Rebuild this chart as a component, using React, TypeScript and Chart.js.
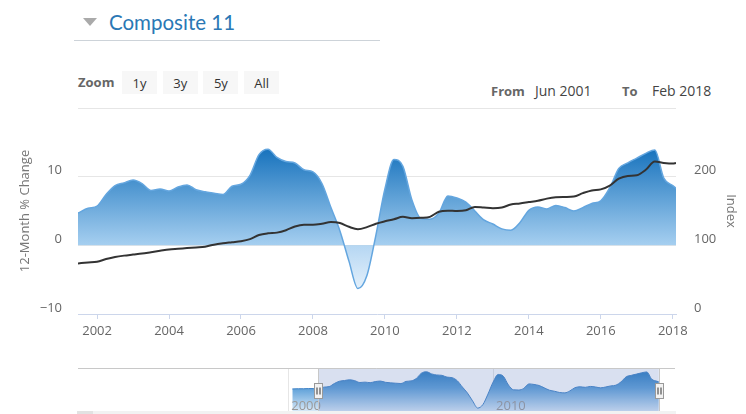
import React, { useEffect, useRef } from "react";
import { Chart, registerables } from "chart.js";

Chart.register(...registerables);
Chart.defaults.font.family = "'Open Sans', 'DejaVu Sans', sans-serif";

// ---- data (decimal years) ----
const dates = [
  2001.47, 2001.75,
  2002.0, 2002.25, 2002.5, 2002.75,
  2003.0, 2003.25, 2003.5, 2003.75,
  2004.0, 2004.25, 2004.5, 2004.75,
  2005.0, 2005.25, 2005.5, 2005.75,
  2006.0, 2006.25, 2006.5, 2006.75,
  2007.0, 2007.25, 2007.5, 2007.75,
  2008.0, 2008.25, 2008.5, 2008.75,
  2009.0, 2009.25, 2009.5, 2009.75,
  2010.0, 2010.25, 2010.5, 2010.75,
  2011.0, 2011.25, 2011.5, 2011.75,
  2012.0, 2012.25, 2012.5, 2012.75,
  2013.0, 2013.25, 2013.5, 2013.75,
  2014.0, 2014.25, 2014.5, 2014.75,
  2015.0, 2015.25, 2015.5, 2015.75,
  2016.0, 2016.25, 2016.5, 2016.75,
  2017.0, 2017.25, 2017.5, 2017.75,
  2018.0, 2018.09,
];

// 12-month % change
const pctChange = [
  4.7, 5.4,
  5.7, 7.4, 8.7, 9.1,
  9.5, 9.0, 8.0, 8.2,
  7.9, 8.5, 8.8, 8.1,
  7.8, 7.6, 7.4, 8.6,
  8.9, 10.2, 13.2, 14.0,
  12.8, 12.2, 12.0, 11.0,
  10.7, 9.0, 5.5, 2.1,
  -2.3, -6.3, -4.4, 1.5,
  8.2, 12.5, 11.5, 6.6,
  3.9, 3.8, 4.7, 7.2,
  6.9, 6.3, 5.0, 3.7,
  3.1, 2.4, 2.2, 3.3,
  5.1, 5.6, 5.3, 5.8,
  5.5, 5.0, 5.5, 6.1,
  6.5, 8.4, 11.2, 12.0,
  12.7, 13.4, 13.9, 9.8,
  8.7, 8.3,
];

// Index level
const indexLevel = [
  73.7, 75,
  76.2, 80, 83, 85,
  86.5, 88, 90, 92,
  94, 95, 96, 97,
  98, 101, 103, 104.5,
  106, 109, 115, 117.5,
  118.5, 122, 127.5, 130,
  130, 131.5, 134, 132.5,
  127, 123.5, 126.5, 131.5,
  135, 138, 141.5, 139.5,
  140, 141.5, 149, 150.5,
  150, 151, 156, 155,
  154, 155, 159.5, 161,
  163, 165, 168, 170,
  170.5, 171, 176, 180,
  181.5, 187, 197, 201,
  202, 210, 222, 220,
  219, 220,
];

// navigator-only earlier history
const earlyDates = [2000.2, 2000.5, 2000.75, 2001.0, 2001.25];
const earlyPct = [4.4, 4.5, 4.5, 4.6, 4.6];

const xTickYears = [2002, 2004, 2006, 2008, 2010, 2012, 2014, 2016, 2018];
const leftTicks = [-10, 0, 10, 20];
const rightTicks = [0, 100, 200, 300];
const navLabelYears = [2000, 2010];
const zoomButtons = ["1y", "3y", "5y", "All"];
const fromLabel = "Jun 2001";
const toLabel = "Feb 2018";

function mainGradient(chart: any) {
  const { ctx, chartArea, scales } = chart;
  if (!chartArea) return "#5a9fd6";
  const y0 = scales.y.getPixelForValue(0);
  const h = chartArea.bottom - chartArea.top;
  const z = Math.max(0, Math.min(1, (y0 - chartArea.top) / h));
  const g = ctx.createLinearGradient(0, chartArea.top, 0, chartArea.bottom);
  g.addColorStop(0, "#0a5fab");
  g.addColorStop(0.2, "#1873bd");
  g.addColorStop(z, "#a6cff0");
  g.addColorStop(Math.min(1, z + 0.004), "#b6d7f3");
  g.addColorStop(1, "#ffffff");
  return g;
}

function navGradient(chart: any) {
  const { ctx, chartArea } = chart;
  if (!chartArea) return "#5a9fd6";
  const g = ctx.createLinearGradient(0, chartArea.top, 0, chartArea.bottom);
  g.addColorStop(0, "#1f74bd");
  g.addColorStop(0.45, "#5c9fd8");
  g.addColorStop(1, "#dcebf9");
  return g;
}

const navDecor = {
  id: "navDecor",
  beforeDatasetsDraw(chart: any) {
    const { ctx, chartArea, scales } = chart;
    const { top, bottom } = chartArea;
    ctx.save();
    ctx.strokeStyle = "#e6e6e6";
    ctx.lineWidth = 1;
    navLabelYears.forEach((yr) => {
      const px = Math.round(scales.x.getPixelForValue(yr)) + 0.5;
      ctx.beginPath();
      ctx.moveTo(px, top);
      ctx.lineTo(px, bottom);
      ctx.stroke();
    });
    ctx.restore();
  },
  afterDatasetsDraw(chart: any) {
    const { ctx, chartArea, scales } = chart;
    const { top, bottom, left, right } = chartArea;
    const x = scales.x;
    ctx.save();
    // labels
    ctx.fillStyle = "#999";
    ctx.font = "13px 'Open Sans', sans-serif";
    ctx.textAlign = "left";
    ctx.textBaseline = "alphabetic";
    navLabelYears.forEach((yr) => {
      ctx.fillText(String(yr), x.getPixelForValue(yr) + 3, bottom - 2);
    });
    // mask
    const m0 = x.getPixelForValue(dates[0]);
    const m1 = x.getPixelForValue(dates[dates.length - 1]);
    ctx.fillStyle = "rgba(102,133,194,0.25)";
    ctx.fillRect(m0, top, m1 - m0, bottom - top);
    // outline
    ctx.strokeStyle = "#c8c8c8";
    ctx.lineWidth = 1;
    ctx.beginPath();
    ctx.moveTo(left, top + 0.5);
    ctx.lineTo(right, top + 0.5);
    ctx.moveTo(Math.round(m0) + 0.5, top);
    ctx.lineTo(Math.round(m0) + 0.5, bottom);
    ctx.moveTo(Math.round(m1) + 0.5, top);
    ctx.lineTo(Math.round(m1) + 0.5, bottom);
    ctx.stroke();
    // handles
    const mid = (top + bottom) / 2;
    [m0, m1].forEach((m) => {
      const hx = Math.round(m - 4) + 0.5;
      const hy = Math.round(mid - 7.5) + 0.5;
      ctx.fillStyle = "#f2f2f2";
      ctx.strokeStyle = "#999";
      ctx.fillRect(hx, hy, 8, 15);
      ctx.strokeRect(hx, hy, 8, 15);
      ctx.strokeStyle = "#333";
      ctx.beginPath();
      ctx.moveTo(hx + 2.5, hy + 4);
      ctx.lineTo(hx + 2.5, hy + 11);
      ctx.moveTo(hx + 5.5, hy + 4);
      ctx.lineTo(hx + 5.5, hy + 11);
      ctx.stroke();
    });
    ctx.restore();
  },
};

function MainChart() {
  const ref = useRef<HTMLCanvasElement>(null);
  useEffect(() => {
    const canvas = ref.current!;
    const chart = new Chart(canvas, {
      type: "line",
      data: {
        datasets: [
          {
            label: "Index",
            data: dates.map((d, i) => ({ x: d, y: indexLevel[i] })),
            yAxisID: "y2",
            borderColor: "#333333",
            borderWidth: 2,
            pointRadius: 0,
            fill: false,
            cubicInterpolationMode: "monotone",
            order: 0,
          },
          {
            label: "12-Month % Change",
            data: dates.map((d, i) => ({ x: d, y: pctChange[i] })),
            yAxisID: "y",
            borderColor: "#64a6df",
            borderWidth: 1.5,
            pointRadius: 0,
            fill: "origin",
            backgroundColor: (c: any) => mainGradient(c.chart),
            cubicInterpolationMode: "monotone",
            order: 1,
          },
        ],
      },
      options: {
        responsive: false,
        animation: false,
        layout: { padding: { top: 108, left: 0, right: 0, bottom: 0 } },
        plugins: { legend: { display: false }, tooltip: { enabled: false } },
        scales: {
          x: {
            type: "linear",
            min: dates[0],
            max: dates[dates.length - 1],
            afterBuildTicks: (s: any) => {
              s.ticks = xTickYears.map((v) => ({ value: v }));
            },
            afterFit: (s: any) => {
              s.height = 36;
            },
            grid: { drawOnChartArea: false, drawTicks: true, tickLength: 5, color: "#ccd6eb" },
            border: { display: true, color: "#ccd6eb" },
            ticks: {
              padding: 4,
              color: "#666",
              font: { size: 13 },
              maxRotation: 0,
              autoSkip: false,
              callback: (v: any) => String(v),
            },
          },
          y: {
            position: "left",
            min: -10,
            max: 20,
            afterBuildTicks: (s: any) => {
              s.ticks = leftTicks.map((v) => ({ value: v }));
            },
            afterFit: (s: any) => {
              s.width = 78;
            },
            grid: {
              drawTicks: false,
              color: (c: any) => (c.tick && c.tick.value === -10 ? "rgba(0,0,0,0)" : "#e6e6e6"),
            },
            border: { display: false },
            ticks: {
              padding: 16,
              labelOffset: -6,
              color: "#666",
              font: { size: 13 },
              callback: (v: any) => (v === 20 ? "" : v < 0 ? "\u2212" + String(-v) : String(v)),
            },
            title: {
              display: true,
              text: "12-Month % Change",
              color: "#777",
              font: { size: 13 },
              padding: { top: 17, bottom: 0 },
            },
          },
          y2: {
            position: "right",
            min: 0,
            max: 300,
            afterBuildTicks: (s: any) => {
              s.ticks = rightTicks.map((v) => ({ value: v }));
            },
            afterFit: (s: any) => {
              s.width = 70;
            },
            grid: { display: false, drawTicks: false },
            border: { display: false },
            ticks: {
              padding: 18,
              labelOffset: -6,
              color: "#666",
              font: { size: 13 },
              callback: (v: any) => (v === 300 ? "" : String(v)),
            },
            title: {
              display: true,
              text: "Index",
              color: "#777",
              font: { size: 13 },
              padding: { top: 7, bottom: 0 },
            },
          },
        },
      },
    } as any);
    return () => chart.destroy();
  }, []);
  return <canvas ref={ref} width={746} height={350} style={{ position: "absolute", left: 0, top: 0 }} />;
}

function NavChart() {
  const ref = useRef<HTMLCanvasElement>(null);
  useEffect(() => {
    const canvas = ref.current!;
    const navDates = earlyDates.concat(dates);
    const navPct = earlyPct.concat(pctChange);
    const chart = new Chart(canvas, {
      type: "line",
      data: {
        datasets: [
          {
            data: navDates.map((d, i) => ({ x: d, y: navPct[i] })),
            borderColor: "#3f82c6",
            borderWidth: 1,
            pointRadius: 0,
            fill: "start",
            backgroundColor: (c: any) => navGradient(c.chart),
            cubicInterpolationMode: "monotone",
          },
        ],
      },
      options: {
        responsive: false,
        animation: false,
        layout: { padding: { top: 8, bottom: 2, left: 78, right: 71 } },
        plugins: { legend: { display: false }, tooltip: { enabled: false } },
        scales: {
          x: { type: "linear", min: 1989.74, max: 2018.88, display: false },
          y: { min: -8.5, max: 16.1, display: false },
        },
      },
      plugins: [navDecor],
    } as any);
    return () => chart.destroy();
  }, []);
  return <canvas ref={ref} width={746} height={54} style={{ position: "absolute", left: 0, top: 360 }} />;
}

export default function App() {
  const text: React.CSSProperties = { position: "absolute", whiteSpace: "nowrap", lineHeight: "13px", fontSize: 13 };
  return (
    <div
      style={{
        position: "absolute",
        left: 0,
        top: 0,
        width: 746,
        height: 414,
        overflow: "hidden",
        background: "#fff",
        fontFamily: "'Open Sans', sans-serif",
      }}
    >
      {/* header */}
      <div
        style={{
          position: "absolute",
          left: 83,
          top: 18,
          width: 0,
          height: 0,
          borderLeft: "7px solid transparent",
          borderRight: "7px solid transparent",
          borderTop: "8px solid #aaaaaa",
        }}
      />
      <div
        style={{
          position: "absolute",
          left: 109,
          top: 11,
          fontFamily: "Lato, sans-serif",
          fontSize: 20.5,
          lineHeight: "22px",
          color: "#2a78b5",
          whiteSpace: "nowrap",
        }}
      >
        Composite 11
      </div>
      <div style={{ position: "absolute", left: 74, top: 40, width: 306, height: 1, background: "#cdd3d9" }} />

      <div style={{ ...text, left: 78, top: 76, fontWeight: 700, color: "#666" }}>Zoom</div>
      {zoomButtons.map((b, i) => (
        <div
          key={b}
          style={{
            position: "absolute",
            left: 122 + i * 40.7,
            top: 71,
            width: 35,
            height: 23,
            background: "#f7f7f7",
            color: "#333",
            fontSize: 13,
            display: "flex",
            alignItems: "center",
            justifyContent: "center",
          }}
        >
          {b}
        </div>
      ))}
      <div style={{ ...text, left: 491, top: 85, fontWeight: 700, color: "#666" }}>From</div>
      <div style={{ ...text, left: 535, top: 84, fontSize: 14, color: "#444" }}>{fromLabel}</div>
      <div style={{ ...text, left: 622, top: 85, fontWeight: 700, color: "#666" }}>To</div>
      <div style={{ ...text, left: 652, top: 84, fontSize: 14, color: "#444" }}>{toLabel}</div>

      <MainChart />
      <NavChart />

      {/* scrollbar */}
      <div style={{ position: "absolute", left: 78, top: 411, width: 598, height: 3, background: "#f2f2f2" }} />
      <div style={{ position: "absolute", left: 77, top: 411, width: 16, height: 3, background: "#e2e2e2" }} />
    </div>
  );
}
